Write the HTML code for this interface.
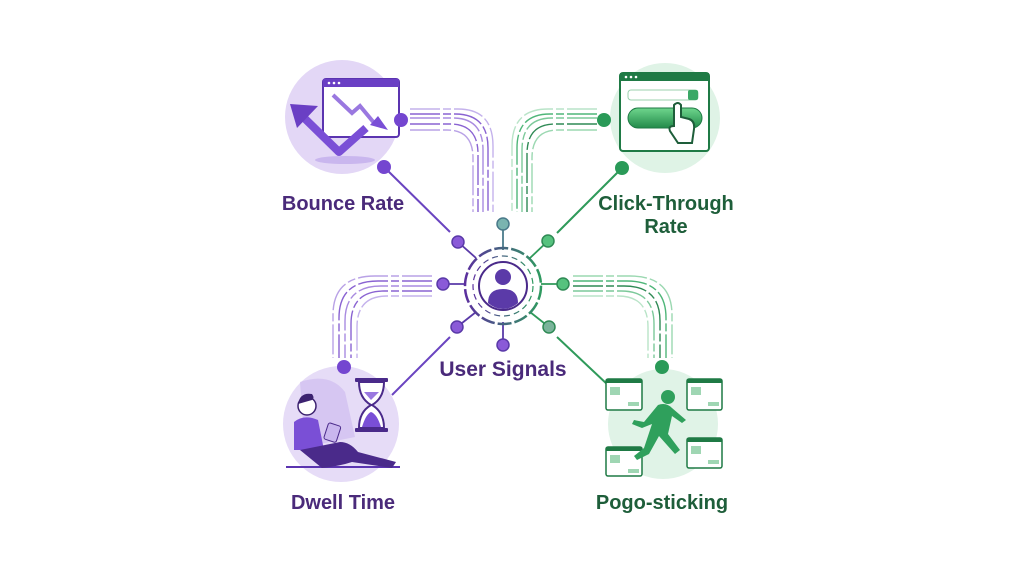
<!DOCTYPE html>
<html><head><meta charset="utf-8"><style>
html,body{margin:0;padding:0;background:#fff;width:1024px;height:576px;overflow:hidden}
svg{display:block}
text{font-family:"Liberation Sans",sans-serif;font-weight:bold}
</style></head><body>
<svg width="1024" height="576" viewBox="0 0 1024 576" xmlns="http://www.w3.org/2000/svg">
<defs>
<linearGradient id="bg" x1="0" y1="0" x2="1" y2="0"><stop offset="0" stop-color="#5b2f9e"/><stop offset="1" stop-color="#2f9a60"/></linearGradient>
<linearGradient id="btn" x1="0" y1="0" x2="0" y2="1"><stop offset="0" stop-color="#6fd68d"/><stop offset="1" stop-color="#228a4a"/></linearGradient>
</defs>

<g fill="none" stroke="#8a63d2" stroke-width="1.4" stroke-dasharray="30 3 8 3">
<path d="M410 114 H455 Q488 114 488 148 V212"/>
<path d="M410 118 H453 Q483 118 483 150 V212" stroke="#a98be0"/>
<path d="M410 124 H450 Q478 124 478 154 V212"/>
<path d="M410 130 H447 Q473 130 473 158 V212" stroke="#b9a2e6"/>
<path d="M410 109 H458 Q493 109 493 146 V212" stroke="#c4b2ec"/>
</g>
<g fill="none" stroke="#4fb679" stroke-width="1.4" stroke-dasharray="30 3 8 3">
<path d="M597 114 H550 Q517 114 517 148 V212"/>
<path d="M597 118 H552 Q522 118 522 150 V212" stroke="#7cc99a"/>
<path d="M597 124 H555 Q527 124 527 154 V212" stroke="#2f8a55"/>
<path d="M597 130 H558 Q532 130 532 158 V212" stroke="#9bd8b1"/>
<path d="M597 109 H548 Q512 109 512 146 V212" stroke="#b9e4c8"/>
</g>
<g fill="none" stroke="#8a63d2" stroke-width="1.4" stroke-dasharray="30 3 8 3">
<path d="M432 276 H375 Q333 276 333 315 V358" stroke="#b9a2e6"/>
<path d="M432 281 H378 Q339 281 339 318 V358"/>
<path d="M432 286 H381 Q345 286 345 321 V358" stroke="#a98be0"/>
<path d="M432 291 H384 Q351 291 351 324 V358"/>
<path d="M432 296 H387 Q357 296 357 327 V358" stroke="#c4b2ec"/>
</g>
<g fill="none" stroke="#4fb679" stroke-width="1.4" stroke-dasharray="30 3 8 3">
<path d="M573 276 H630 Q672 276 672 315 V358" stroke="#9bd8b1"/>
<path d="M573 281 H627 Q666 281 666 318 V358"/>
<path d="M573 286 H624 Q660 286 660 321 V358" stroke="#2f8a55"/>
<path d="M573 291 H621 Q654 291 654 324 V358" stroke="#7cc99a"/>
<path d="M573 296 H618 Q648 296 648 327 V358" stroke="#b9e4c8"/>
</g>

<line x1="384" y1="167" x2="450" y2="232" stroke="#6a44c0" stroke-width="2"/>
<line x1="622" y1="168" x2="557" y2="233" stroke="#2f9a5a" stroke-width="2"/>
<line x1="450" y1="337" x2="392" y2="395" stroke="#6a44c0" stroke-width="2"/>
<line x1="557" y1="337" x2="608" y2="385" stroke="#2f9a5a" stroke-width="2"/>

<circle cx="342" cy="117" r="57" fill="#e3d7f6"/>
<ellipse cx="345" cy="160" rx="30" ry="4" fill="#c9b6ee"/>
<rect x="323" y="79" width="76" height="58" rx="3" fill="#fff" stroke="#5b34b0" stroke-width="2"/>
<rect x="323" y="79" width="76" height="8" fill="#6a3fc4"/>
<circle cx="329" cy="83" r="1.3" fill="#fff"/><circle cx="334" cy="83" r="1.3" fill="#fff"/><circle cx="339" cy="83" r="1.3" fill="#fff"/>
<path d="M333 95 L352 113 L360 106 L375 124" fill="none" stroke="#9a78e0" stroke-width="4"/>
<path d="M370 125 L388 130 L378 116 Z" fill="#7a4fd6"/>
<path d="M296 110 L339 152 L366 128" fill="none" stroke="#7a4fd6" stroke-width="8" stroke-linejoin="round"/>
<path d="M290 104 L318 106 L297 128 Z" fill="#6a3fc4"/>

<circle cx="665" cy="118" r="55" fill="#dff3e6"/>
<rect x="620" y="73" width="89" height="78" rx="3" fill="#fff" stroke="#1f7a45" stroke-width="2"/>
<rect x="620" y="73" width="89" height="8" fill="#1f7a45"/>
<circle cx="626" cy="77" r="1.3" fill="#fff"/><circle cx="631" cy="77" r="1.3" fill="#fff"/><circle cx="636" cy="77" r="1.3" fill="#fff"/>
<rect x="628" y="90" width="70" height="10" rx="3" fill="#fff" stroke="#9bd0ae"/>
<rect x="688" y="90" width="10" height="10" rx="2" fill="#3aa866"/>
<rect x="628" y="108" width="74" height="20" rx="10" fill="url(#btn)" stroke="#1f7a45"/>
<path d="M674 120 V105 q4-4 7 0 V117 l8 2 q6 2 5 10 l-2 14 h-14 l-8-12 q-2-5 4-5 z" fill="#fff" stroke="#1e5e3a" stroke-width="2"/>

<circle cx="341" cy="424" r="58" fill="#e6dcf7"/>
<path d="M300 382 q30 -10 45 10 l10 45 l-50 10 z" fill="#cbb8ee" opacity=".6"/>
<line x1="286" y1="467" x2="400" y2="467" stroke="#5b34b0" stroke-width="2"/>
<rect x="355" y="378" width="33" height="4" rx="1" fill="#4a2a8a"/>
<rect x="355" y="428" width="33" height="4" rx="1" fill="#4a2a8a"/>
<path d="M359 382 Q359 398 371 405 Q359 412 359 428 H384 Q384 412 372 405 Q384 398 384 382 Z" fill="#fff" stroke="#4a2a8a" stroke-width="2"/>
<path d="M362 427 Q366 414 371 412 Q377 414 381 427 Z" fill="#7a4fd6"/>
<path d="M364 392 H379 L371 400 Z" fill="#9a78e0"/>
<circle cx="307" cy="406" r="9" fill="#fff" stroke="#3c2270" stroke-width="1.5"/>
<path d="M298 404 q2-12 14-10 q3 4 0 6 z" fill="#3c2270"/>
<path d="M294 422 q10-8 24-2 l6 30 h-30 z" fill="#7a4fd6"/>
<rect x="326" y="424" width="13" height="17" rx="2" fill="#c9b6ee" stroke="#4a2a8a" transform="rotate(18 332 432)"/>
<path d="M300 450 l40 -8 q10 0 18 10 l38 10 l-4 6 l-40 -6 q-12 4 -30 6 z" fill="#4a2a8a"/>

<circle cx="663" cy="424" r="55" fill="#e0f3e7"/>
<g stroke="#1f7a45" stroke-width="1.5" fill="#fff">
<rect x="606" y="379" width="36" height="31" rx="2"/>
<rect x="687" y="379" width="35" height="31" rx="2"/>
<rect x="606" y="447" width="36" height="29" rx="2"/>
<rect x="687" y="438" width="35" height="30" rx="2"/>
</g>
<g fill="#1f7a45"><rect x="606" y="379" width="36" height="4"/><rect x="687" y="379" width="35" height="4"/><rect x="606" y="447" width="36" height="4"/><rect x="687" y="438" width="35" height="4"/></g>
<g fill="#9fd6b3"><rect x="610" y="387" width="10" height="8"/><rect x="691" y="387" width="10" height="8"/><rect x="610" y="455" width="10" height="8"/><rect x="691" y="446" width="10" height="8"/>
<rect x="628" y="402" width="11" height="4"/><rect x="708" y="402" width="11" height="4"/><rect x="628" y="469" width="11" height="4"/><rect x="708" y="460" width="11" height="4"/></g>
<circle cx="668" cy="397" r="7" fill="#2fa05c"/>
<path d="M658 405 q8 -3 14 3 l14 12 l-4 3 l-10 -7 l-4 18 l12 16 l-5 4 l-16 -18 l-10 18 l-12 6 l-3 -4 l10 -8 l8 -24 l-10 4 l-10 -4 l2 -4 l10 2 z" fill="#2fa05c"/>

<circle cx="384" cy="167" r="7" fill="#7446d0"/>
<circle cx="622" cy="168" r="7" fill="#2a9a58"/>
<circle cx="401" cy="120" r="7" fill="#7446d0"/>
<circle cx="604" cy="120" r="7" fill="#2a9a58"/>
<circle cx="344" cy="367" r="7" fill="#7446d0"/>
<circle cx="662" cy="367" r="7" fill="#2a9a58"/>

<g stroke="#5a3aa8" stroke-width="1.8" fill="none">
<line x1="503" y1="224" x2="503" y2="250" stroke="#4a7a8a"/>
<line x1="458" y1="242" x2="476" y2="258"/>
<line x1="548" y1="241" x2="530" y2="258" stroke="#2f9a5a"/>
<line x1="443" y1="284" x2="465" y2="284"/>
<line x1="563" y1="284" x2="541" y2="284" stroke="#2f9a5a"/>
<line x1="457" y1="327" x2="476" y2="312"/>
<line x1="549" y1="327" x2="530" y2="312" stroke="#2f9a5a"/>
<line x1="503" y1="345" x2="503" y2="322"/>
</g>
<circle cx="503" cy="286" r="38" fill="none" stroke="url(#bg)" stroke-width="2.5" stroke-dasharray="14 3"/>
<circle cx="503" cy="286" r="30" fill="none" stroke="url(#bg)" stroke-width="1.2" stroke-dasharray="6 4"/>
<circle cx="503" cy="286" r="24" fill="#fff" stroke="#4a2a8a" stroke-width="2"/>
<circle cx="503" cy="277" r="8" fill="#5b3aa8"/>
<path d="M488 303 q0-14 15-14 q15 0 15 14 q-7 6 -15 6 q-8 0 -15-6z" fill="#5b3aa8"/>
<g stroke-width="1.5">
<circle cx="503" cy="224" r="6" fill="#7ab4b0" stroke="#4a7a8a"/>
<circle cx="458" cy="242" r="6" fill="#8a5ad8" stroke="#5a3aa8"/>
<circle cx="548" cy="241" r="6" fill="#56c27e" stroke="#2f8a55"/>
<circle cx="443" cy="284" r="6" fill="#8a5ad8" stroke="#5a3aa8"/>
<circle cx="563" cy="284" r="6" fill="#56c27e" stroke="#2f8a55"/>
<circle cx="457" cy="327" r="6" fill="#8a5ad8" stroke="#5a3aa8"/>
<circle cx="549" cy="327" r="6" fill="#7ab49a" stroke="#2f8a55"/>
<circle cx="503" cy="345" r="6" fill="#8a5ad8" stroke="#5a3aa8"/>
</g>

<text x="343" y="210" font-size="20" fill="#4a2a7a" text-anchor="middle">Bounce Rate</text>
<text x="666" y="210" font-size="20" fill="#1e5e3a" text-anchor="middle">Click-Through</text>
<text x="666" y="233" font-size="20" fill="#1e5e3a" text-anchor="middle">Rate</text>
<text x="503" y="376" font-size="21" fill="#4a2a7a" text-anchor="middle">User Signals</text>
<text x="343" y="509" font-size="20" fill="#4a2a7a" text-anchor="middle">Dwell Time</text>
<text x="662" y="509" font-size="20" fill="#1e5e3a" text-anchor="middle">Pogo-sticking</text>
</svg>
</body></html>
